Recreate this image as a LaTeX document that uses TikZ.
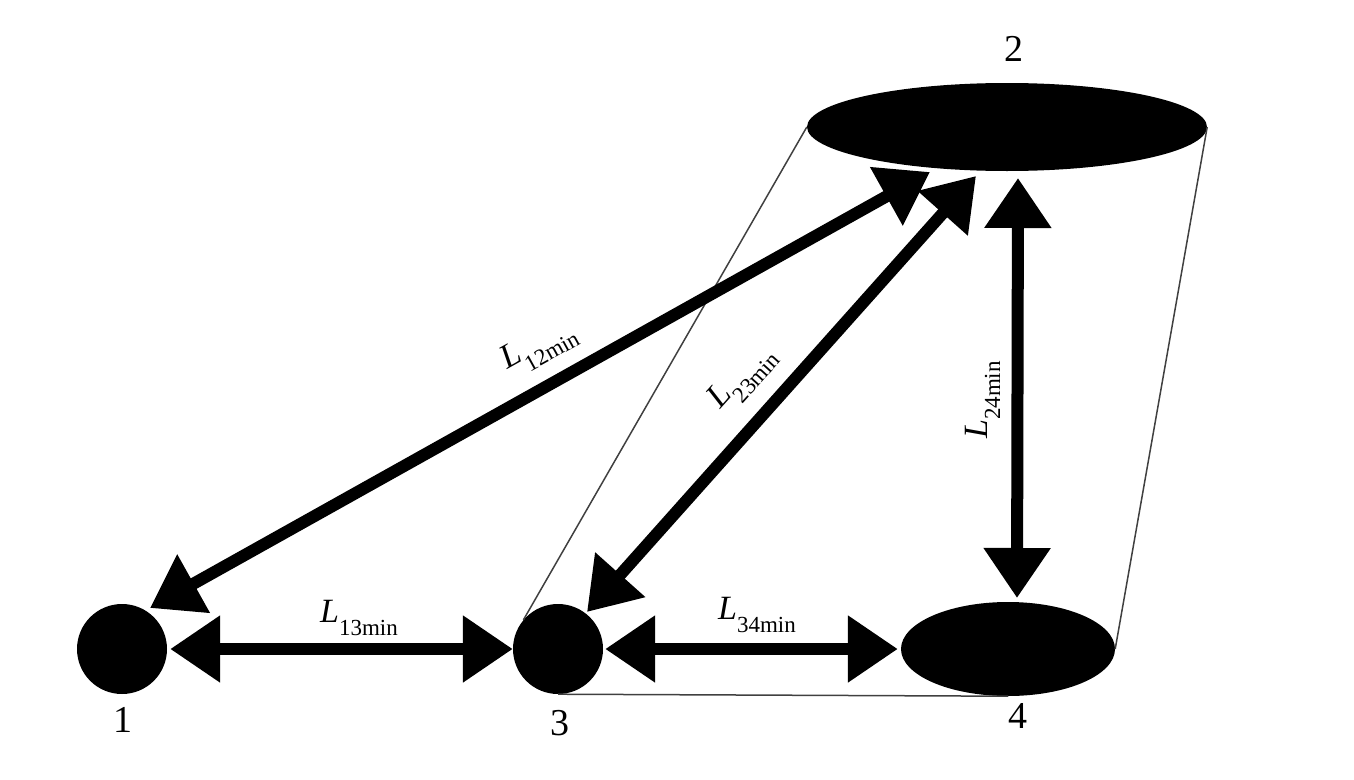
\documentclass[tikz,border=0pt]{standalone}
\usepackage{fontspec}
\setmainfont{Liberation Serif}
\usetikzlibrary{arrows.meta,shapes.geometric}
\newcommand{\Lmin}[1]{{\fontsize{34}{38}\selectfont\itshape L}\raisebox{-13pt}{\fontsize{23}{25}\selectfont #1min}}
\begin{document}
\begin{tikzpicture}[x=1pt,y=-1pt,
  blob/.style={fill=black, draw=none, inner sep=0pt},
  dist/.style={line width=12pt, {Triangle[length=50pt,width=64pt]}-{Triangle[length=50pt,width=64pt]}},
  rim/.style={line width=1.5pt, draw=black!75},
  num/.style={font=\fontsize{38}{40}\selectfont, inner sep=0pt},
  lab/.style={inner sep=0pt, anchor=base}]
\useasboundingbox (0,0) rectangle (1354,779);
% bodies
\node[blob, circle, minimum size=90pt] (c1) at (122,649) {};
\node[blob, circle, minimum size=90pt] (c3) at (558,649) {};
\node[blob, ellipse, minimum width=214pt, minimum height=94pt] (e4) at (1008,649) {};
\node[blob, ellipse, minimum width=400pt, minimum height=88pt] (e2) at (1007,127) {};
% thin outline
\draw[rim] (e2.west) -- (c3.140);
\draw[rim] (e2.east) -- (e4.east);
\draw[rim] (c3.south) -- (e4.south);
% arrow ends
\coordinate (p1a) at (150,608);
\coordinate (p1b) at (930,172);
\coordinate (p3a) at (587,612);
\coordinate (p3b) at (976,176);
\coordinate (p2c) at (1018,178);
\coordinate (p4c) at (1017,598);
% distances
\draw[dist] (p1a) -- (p1b);
\draw[dist] (p3a) -- (p3b);
\draw[dist] (p2c) -- (p4c);
\draw[dist] ([xshift=3pt]c1.east) -- (c3.west);
\draw[dist] ([xshift=2pt]c3.east) -- ([xshift=-3pt]e4.west);
% labels
\node[lab] (l13) at (359,622) {\Lmin{13}};
\node[lab] (l34) at (757,619) {\Lmin{34}};
\node[lab, rotate=29] (l12) at (541,351) {\Lmin{12}};
\node[lab, rotate=48] (l23) at (746,381) {\Lmin{23}};
\node[lab, rotate=90] (l24) at (987,400) {\Lmin{24}};
% numbers
\node[num] (n1) at (123,720) {1};
\node[num] (n2) at (1014,49) {2};
\node[num] (n3) at (560,723) {3};
\node[num] (n4) at (1018,716) {4};
\end{tikzpicture}
\end{document}
